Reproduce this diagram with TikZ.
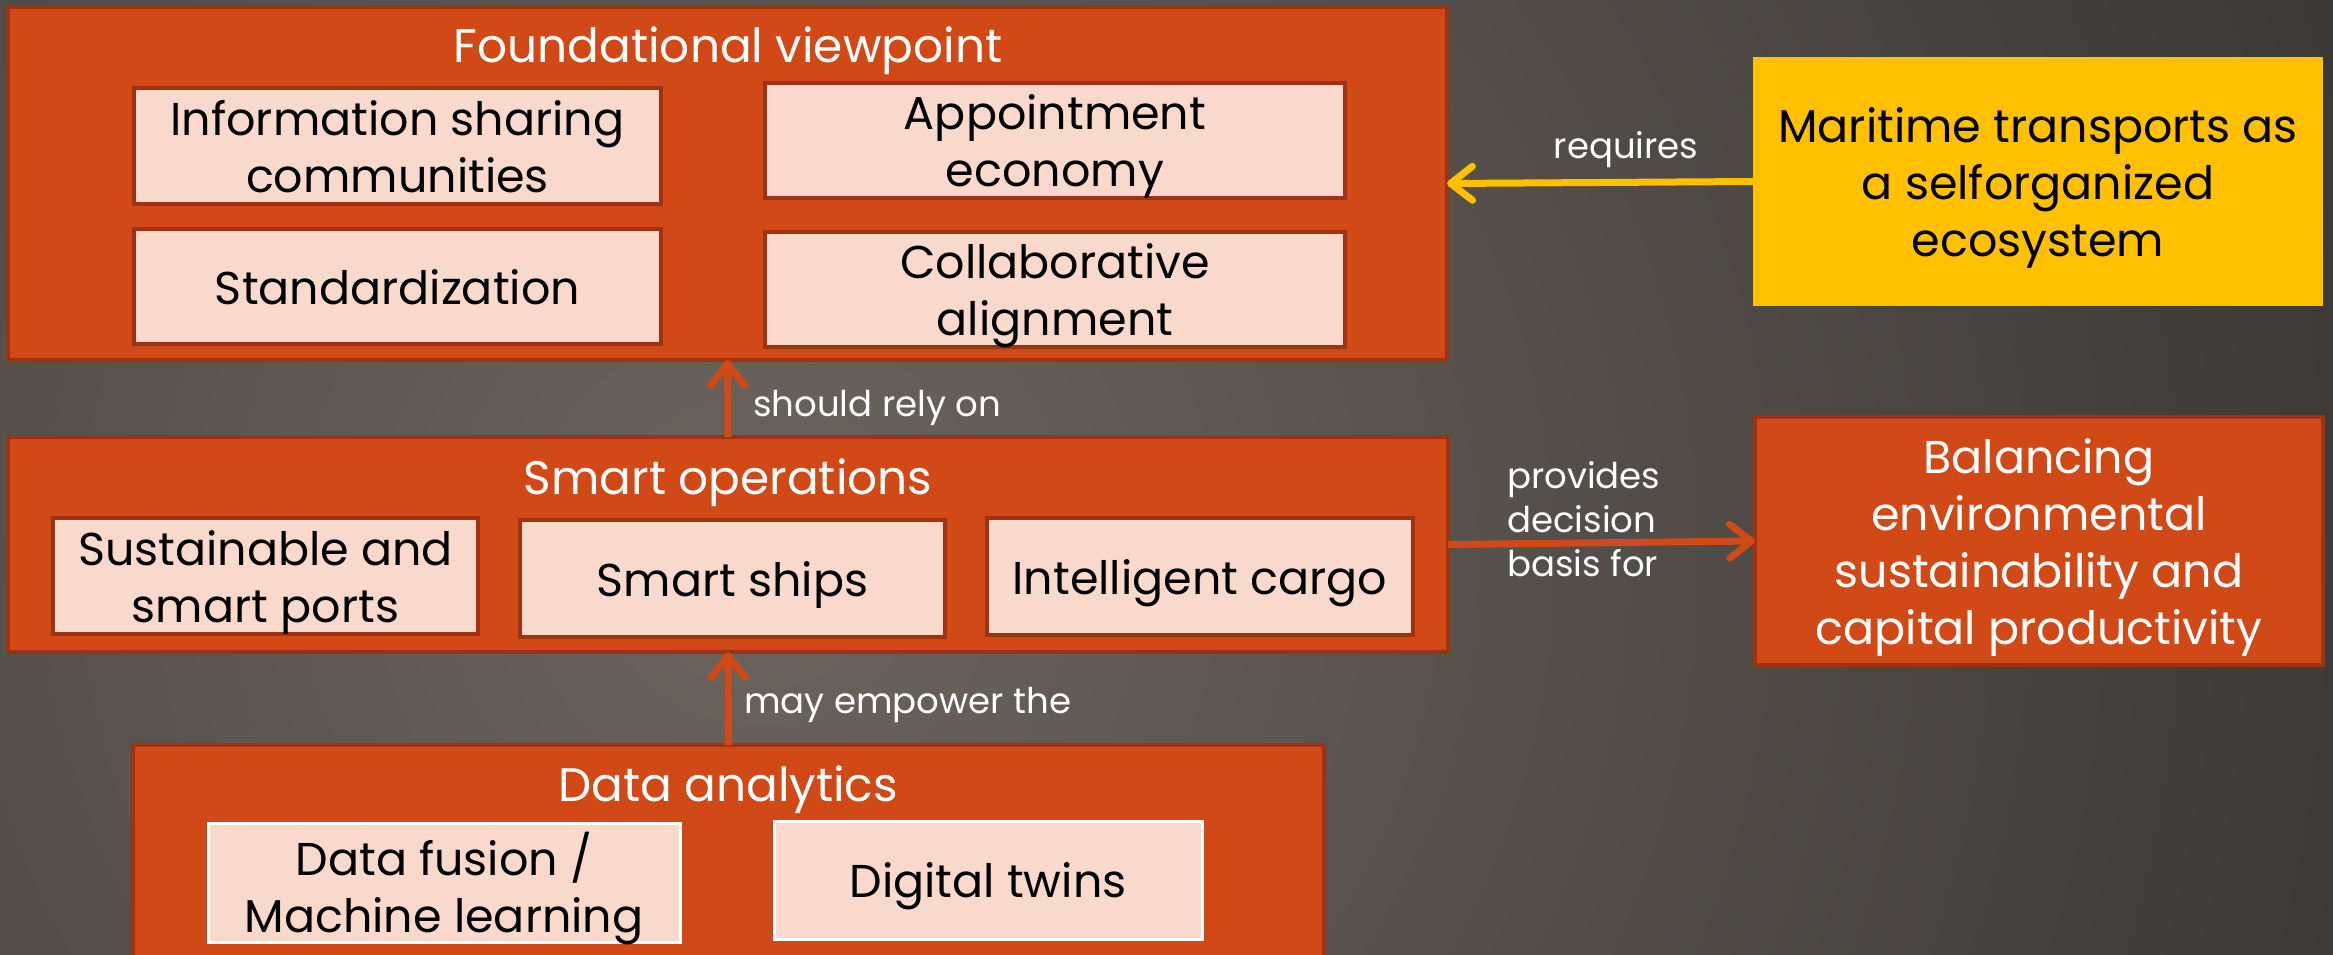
\documentclass[tikz,border=0pt]{standalone}
\usepackage{fontspec}
\setmainfont{Poppins}
\usetikzlibrary{arrows.meta}

\definecolor{bgdark}{RGB}{46,44,44}
\definecolor{bglight}{RGB}{108,101,94}
\definecolor{rust}{RGB}{210,73,24}
\definecolor{rustdark}{RGB}{158,50,18}
\definecolor{blush}{RGB}{249,217,203}
\definecolor{amber}{RGB}{255,192,0}

\newcommand{\boxfont}{\fontsize{46}{57}\selectfont}
\newcommand{\headfont}{\fontsize{47}{57}\selectfont}
\newcommand{\tagfont}{\fontsize{35.5}{44}\selectfont}

\begin{document}
\begin{tikzpicture}[x=1pt,y=-1pt,
  panel/.style={draw=rustdark, line width=4pt, fill=rust, anchor=north west,
    inner sep=0pt, outer sep=0pt, text=white, align=center, font=\headfont,
    text depth=0pt},
  item/.style={draw=rustdark, line width=4pt, fill=blush, anchor=north west,
    inner sep=0pt, outer sep=0pt, text=black, align=center, font=\boxfont,
    text depth=0pt},
  lightitem/.style={item, draw=white, line width=3pt},
  head/.style={text=white, font=\headfont, inner sep=0pt, anchor=base},
  tag/.style={text=white, font=\tagfont, inner sep=0pt},
  rustarrow/.style={draw=rust, line width=7pt,
    -{Straight Barb[round, length=22pt, width=34pt]}},
  amberarrow/.style={draw=amber, line width=7pt,
    -{Straight Barb[round, length=22pt, width=34pt]}}
]
\useasboundingbox (0,0) rectangle (2333,955);

% backdrop: dark slate with a warm glow on the left
\fill[bgdark] (0,0) rectangle (2333,955);
\begin{scope}
  \clip (0,0) rectangle (2333,955);
  \shade[inner color=bglight, outer color=bgdark] (760,560) circle (2100);
\end{scope}

% foundational layer
\node[panel, minimum width=1439pt, minimum height=353pt] (FV) at (8,7) {};
\node[head] (FVt) at (728,63) {Foundational viewpoint};
\node[item, minimum width=527pt, minimum height=116pt] (info) at (134,88)
  {Information sharing\\communities};
\node[item, minimum width=527pt, minimum height=115pt] (std) at (134,229)
  {Standardization};
\node[item, minimum width=580pt, minimum height=115pt] (appt) at (765,83)
  {Appointment\\economy};
\node[item, minimum width=580pt, minimum height=115pt] (collab) at (765,232)
  {Collaborative\\alignment};

% self-organized ecosystem
\node[fill=amber, anchor=north west, inner sep=0pt, outer sep=0pt,
  minimum width=570pt, minimum height=249pt, align=center, font=\boxfont,
  text=black, text depth=0pt] (eco) at (1753,57)
  {Maritime transports as\\a selforganized\\ecosystem};

% smart operations layer
\node[panel, minimum width=1440pt, minimum height=215pt] (SO) at (8,437) {};
\node[head] (SOt) at (728,494) {Smart operations};
\node[item, minimum width=425pt, minimum height=116pt] (ports) at (53,518)
  {Sustainable and\\smart ports};
\node[item, minimum width=425pt, minimum height=117pt] (ships) at (520,520)
  {Smart ships};
\node[item, minimum width=426pt, minimum height=117pt] (cargo) at (987,518)
  {Intelligent cargo};

% outcome
\node[panel, minimum width=568pt, minimum height=248pt, font=\boxfont]
  (bal) at (1755,417)
  {Balancing\\environmental\\sustainability and\\capital productivity};

% data analytics layer
\node[panel, minimum width=1191pt, minimum height=240pt] (DA) at (133,745) {};
\node[head] (DAt) at (728,801) {Data analytics};
\node[lightitem, minimum width=472pt, minimum height=119pt] (fusion) at (208,823)
  {Data fusion /\\Machine learning};
\node[lightitem, minimum width=428pt, minimum height=118pt] (twins) at (774,821)
  {Digital twins};

% relations
\draw[amberarrow] (eco.west) -- (FV.east);
\draw[rustarrow] (SO.north) -- (FV.south);
\draw[rustarrow] (DA.north) -- (SO.south);
\draw[rustarrow] (SO.east) -- (bal.west);

\node[tag, anchor=base] (reqL) at (1626,158) {requires};
\node[tag, anchor=base west] (relyL) at (753,416) {should rely on};
\node[tag, anchor=base west] (empL) at (744,713) {may empower the};
\node[tag, anchor=north west, align=left] (provL) at (1507,461)
  {provides\\decision\\basis for};
\end{tikzpicture}
\end{document}
